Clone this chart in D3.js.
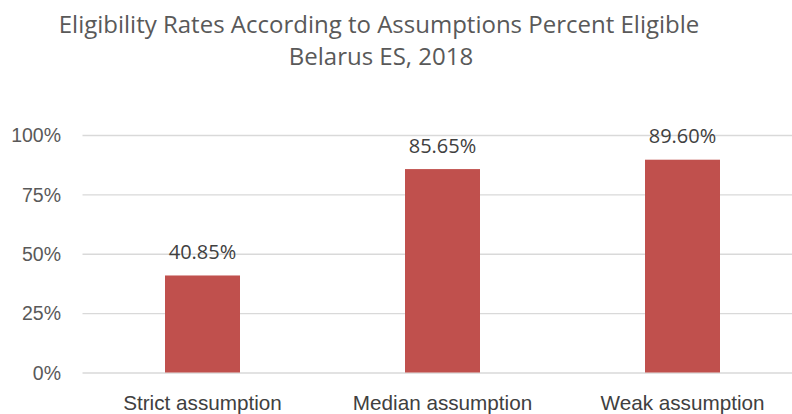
<!DOCTYPE html>
<html>
<head>
<meta charset="utf-8">
<script src="https://cdn.jsdelivr.net/npm/d3@7"></script>
<style>
  html, body { margin: 0; padding: 0; background: #fff; }
  svg { display: block; font-family: "Open Sans", "Liberation Sans", sans-serif; }
</style>
</head>
<body>
<svg id="chart" width="792" height="414"></svg>
<script>
const titleLines = ["Eligibility Rates According to Assumptions Percent Eligible", "Belarus ES, 2018"];
const categories = ["Strict assumption", "Median assumption", "Weak assumption"];
const values = [40.85, 85.65, 89.60];
const yTicks = [0, 25, 50, 75, 100];
const yTickLabels = ["0%", "25%", "50%", "75%", "100%"];

const svg = d3.select("#chart");
const W = 792, H = 414;
const mLeft = 82.5, mRight = 802.5, mTop = 135, mBottom = 372.5;

const x = d3.scaleBand().domain(categories).range([mLeft, mRight])
  .paddingInner(0.6875).paddingOuter(0.34375);
const y = d3.scaleLinear().domain([0, 100]).range([mBottom, mTop]);

// title
const title = svg.append("text").attr("text-anchor", "middle").attr("fill", "#595959")
  .style("font-size", "24px");
title.append("tspan").attr("x", 379).attr("y", 33).text(titleLines[0]);
title.append("tspan").attr("x", 381).attr("y", 65).text(titleLines[1]);

// gridlines
const yAxis = d3.axisLeft(y).tickValues(yTicks).tickSize(-(W - mLeft))
  .tickFormat((d, i) => yTickLabels[i]).tickPadding(21.5);
const gy = svg.append("g").attr("transform", `translate(${mLeft},0)`).call(yAxis);
gy.select(".domain").remove();
gy.selectAll(".tick line").attr("stroke", "#d9d9d9").attr("stroke-width", 1.3);
gy.selectAll(".tick text").attr("fill", "#595959").style("font-size", "19.5px")
  .attr("dy", "0.35em");

// bars
svg.append("g").selectAll("rect").data(values).join("rect")
  .attr("x", (d, i) => x(categories[i]))
  .attr("width", x.bandwidth())
  .attr("y", d => y(d))
  .attr("height", d => y(0) - y(d))
  .attr("fill", "#c0504d");

// value labels
svg.append("g").selectAll("text").data(values).join("text")
  .attr("x", (d, i) => x(categories[i]) + x.bandwidth() / 2)
  .attr("y", d => y(d) - 16.5)
  .attr("text-anchor", "middle").attr("fill", "#404040")
  .style("font-size", "20px")
  .text(d => d.toFixed(2) + "%");

// x axis labels
const xAxis = d3.axisBottom(x).tickSize(0).tickPadding(0);
const gx = svg.append("g").attr("transform", `translate(0,${mBottom})`).call(xAxis);
gx.select(".domain").remove();
gx.selectAll(".tick text").attr("fill", "#404040").style("font-size", "20.7px")
  .attr("dy", null).attr("y", 37.5);
</script>
</body>
</html>
